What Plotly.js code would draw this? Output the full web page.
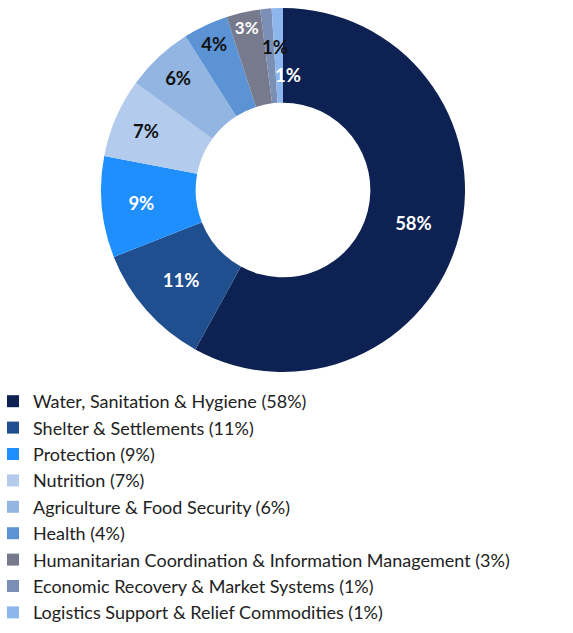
<!DOCTYPE html>
<html>
<head>
<meta charset="utf-8">
<script src="https://cdn.plot.ly/plotly-3.0.1.min.js"></script>
<style>html,body{margin:0;padding:0;background:#fff;}#chart{width:573px;height:633px;}</style>
</head>
<body>
<div id="chart"></div>
<script>
const categories = [
  "Water, Sanitation & Hygiene",
  "Shelter & Settlements",
  "Protection",
  "Nutrition",
  "Agriculture & Food Security",
  "Health",
  "Humanitarian Coordination & Information Management",
  "Economic Recovery & Market Systems",
  "Logistics Support & Relief Commodities"
];
const percentages = [58, 11, 9, 7, 6, 4, 3, 1, 1];
const sliceColors = ["#0d2252", "#1f4f8e", "#1f8ffd", "#b3cbec", "#93b5e1", "#5b93d5", "#777a8c", "#7b8fb5", "#8db6ec"];
const textColors = ["#ffffff", "#ffffff", "#ffffff", "#111111", "#111111", "#111111", "#ffffff", "#111111", "#ffffff"];

const legendLabels = categories.map((c, i) => c + " (" + percentages[i] + "%)");

// slices too thin for inside text get a label drawn as an annotation at their mid-angle
const W = 573, H = 633;
const pieX = [101, 465], pieY = [8, 372];          // pixel box of the pie
const cx = (pieX[0] + pieX[1]) / 2, cy = (pieY[0] + pieY[1]) / 2, R = (pieX[1] - pieX[0]) / 2;
const thin = percentages.map(v => v < 2);
const labelRadius = [0, 0, 0, 0, 0, 0, 0, 0.79, 0.63];
const labelShift = [0, 0, 0, 0, 0, 0, 0, 6, 9];
const total = percentages.reduce((a, b) => a + b, 0);
const annotations = [];
let cum = 0;
percentages.forEach((v, i) => {
  const mid = (cum + v / 2) / total * 2 * Math.PI;
  cum += v;
  if (!thin[i]) return;
  const px = cx + Math.sin(mid) * R * labelRadius[i];
  const py = cy - Math.cos(mid) * R * labelRadius[i];
  annotations.push({
    x: px / W, y: 1 - py / H, xref: "paper", yref: "paper",
    xanchor: "center", yanchor: "middle",
    text: v + "%", showarrow: false, xshift: labelShift[i],
    font: { family: "Lato, sans-serif", size: 18.5, color: textColors[i], weight: "bold" }
  });
});

const trace = {
  type: "pie",
  labels: legendLabels,
  values: percentages,
  sort: false,
  direction: "clockwise",
  rotation: 0,
  hole: 0.48,
  marker: { colors: sliceColors, line: { width: 0 } },
  texttemplate: "%{value}%",
  textposition: thin.map(t => t ? "none" : "inside"),
  insidetextorientation: "horizontal",
  textfont: { family: "Lato, sans-serif", size: 18.5, color: textColors, weight: "bold" },
  domain: { x: [pieX[0] / W, pieX[1] / W], y: [1 - pieY[1] / H, 1 - pieY[0] / H] },
  hoverinfo: "label"
};

const layout = {
  width: W,
  height: H,
  margin: { l: 0, r: 0, t: 0, b: 0, autoexpand: false },
  paper_bgcolor: "#ffffff",
  showlegend: true,
  annotations: annotations,
  legend: {
    x: -7 / W, y: 1 - 383 / H, xanchor: "left", yanchor: "top",
    orientation: "v",
    font: { family: "Lato, sans-serif", size: 18, color: "#222222" },
    traceorder: "normal",
    itemwidth: 30,
    bgcolor: "rgba(0,0,0,0)"
  }
};

Plotly.newPlot("chart", [trace], layout, { displayModeBar: false, staticPlot: true });
</script>
</body>
</html>
